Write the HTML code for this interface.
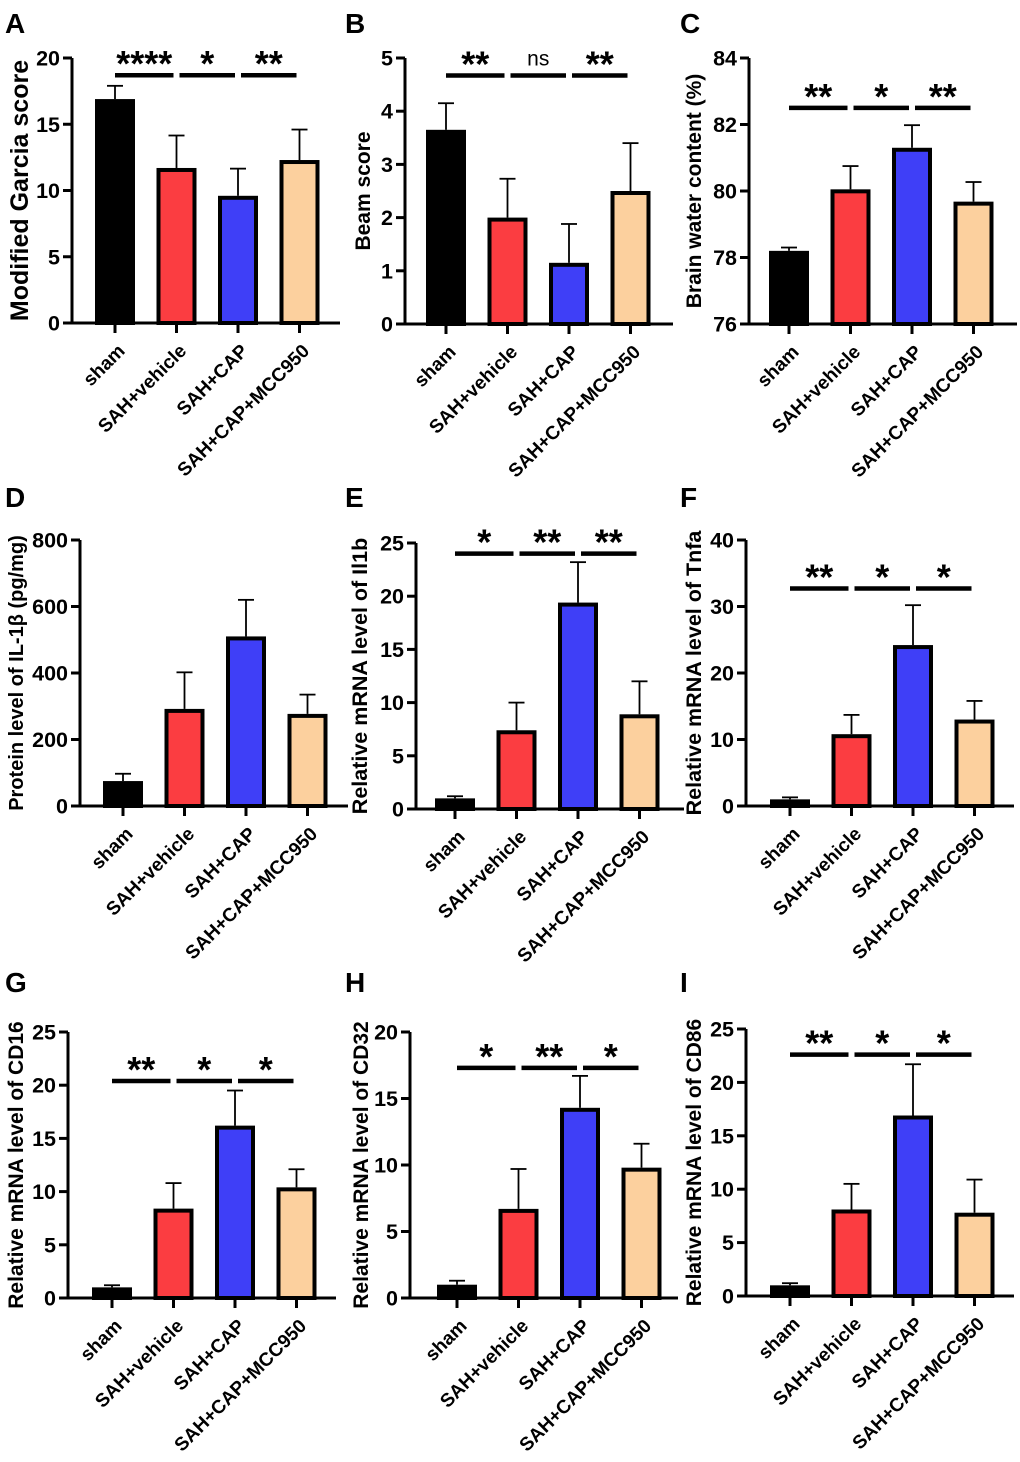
<!DOCTYPE html>
<html><head><meta charset="utf-8"><style>
html,body{margin:0;padding:0;background:#fff}
svg{display:block;font-family:"Liberation Sans",Arial,sans-serif}
</style></head><body>
<svg id="fig" width="1020" height="1462" viewBox="0 0 1020 1462" xmlns="http://www.w3.org/2000/svg"></svg>
<script>
const categories = ["sham","SAH+vehicle","SAH+CAP","SAH+CAP+MCC950"];
const colors = ["#000000","#fb3d41","#3f3ff7","#fcd09e"];
const garciaMeans=[16.9,11.7,9.6,12.3], garciaErr=[1.0,2.45,2.05,2.3];
const beamMeans=[3.65,2.0,1.15,2.5], beamErr=[0.5,0.73,0.73,0.9];
const waterMeans=[78.2,80.05,81.3,79.68], waterErr=[0.1,0.7,0.68,0.59];
const il1bProtMeans=[75,292,510,277], il1bProtErr=[22,110,110,58];
const il1bMeans=[1.0,7.4,19.4,8.9], il1bErr=[0.2,2.6,3.8,3.1];
const tnfaMeans=[1.0,10.8,24.2,13.0], tnfaErr=[0.3,2.9,6.0,2.8];
const cd16Means=[1.0,8.4,16.2,10.4], cd16Err=[0.2,2.4,3.3,1.7];
const cd32Means=[1.0,6.7,14.3,9.8], cd32Err=[0.3,3.0,2.4,1.8];
const cd86Means=[1.0,8.1,16.9,7.8], cd86Err=[0.2,2.4,4.8,3.1];
const garciaSig=["****","*","**"], beamSig=["**","ns","**"], waterSig=["**","*","**"];
const il1bSig=["*","**","**"], tnfaSig=["**","*","*"], cd16Sig=["**","*","*"], cd32Sig=["*","**","*"], cd86Sig=["**","*","*"];
const garciaTicks=[0,5,10,15,20], beamTicks=[0,1,2,3,4,5], waterTicks=[76,78,80,82,84];
const protTicks=[0,200,400,600,800], il1bTicks=[0,5,10,15,20,25], tnfaTicks=[0,10,20,30,40];
const cd16Ticks=[0,5,10,15,20,25], cd32Ticks=[0,5,10,15,20], cd86Ticks=[0,5,10,15,20,25];

const NS="http://www.w3.org/2000/svg";
const svg=document.getElementById('fig');
function mk(tag,attrs,parent){const e=document.createElementNS(NS,tag);for(const k in attrs)e.setAttribute(k,attrs[k]);(parent||svg).appendChild(e);return e;}

const panels=[
 {L:"A",lx:5,ly:33,x0:72,t1:115,yTop:58,yBot:323,min:0,max:20,ticks:garciaTicks,m:garciaMeans,e:garciaErr,sig:garciaSig,sigV:18.7,title:"Modified Garcia score",tx:28,tfs:25},
 {L:"B",lx:345,ly:33,x0:405,t1:446,yTop:58,yBot:324,min:0,max:5,ticks:beamTicks,m:beamMeans,e:beamErr,sig:beamSig,sigV:4.67,title:"Beam score",tx:370,tfs:21},
 {L:"C",lx:680,ly:33,x0:749,t1:789,yTop:58,yBot:324,min:76,max:84,ticks:waterTicks,m:waterMeans,e:waterErr,sig:waterSig,sigV:82.5,title:"Brain water content (%)",tx:701,tfs:21},
 {L:"D",lx:5,ly:507,x0:80,t1:123,yTop:540,yBot:806,min:0,max:800,ticks:protTicks,m:il1bProtMeans,e:il1bProtErr,sig:null,title:"Protein level of IL-1β (pg/mg)",tx:23,tfs:20},
 {L:"E",lx:345,ly:507,x0:416,t1:455,yTop:543,yBot:809,min:0,max:25,ticks:il1bTicks,m:il1bMeans,e:il1bErr,sig:il1bSig,sigV:24,title:"Relative mRNA level of Il1b",tx:367,tfs:21.5},
 {L:"F",lx:680,ly:507,x0:746,t1:790,yTop:540,yBot:806,min:0,max:40,ticks:tnfaTicks,m:tnfaMeans,e:tnfaErr,sig:tnfaSig,sigV:32.7,title:"Relative mRNA level of Tnfa",tx:701,tfs:21.5},
 {L:"G",lx:5,ly:992,x0:68,t1:112,yTop:1032,yBot:1298,min:0,max:25,ticks:cd16Ticks,m:cd16Means,e:cd16Err,sig:cd16Sig,sigV:20.4,title:"Relative mRNA level of CD16",tx:23,tfs:21},
 {L:"H",lx:345,ly:992,x0:410,t1:457,yTop:1032,yBot:1298,min:0,max:20,ticks:cd32Ticks,m:cd32Means,e:cd32Err,sig:cd32Sig,sigV:17.3,title:"Relative mRNA level of CD32",tx:368,tfs:21},
 {L:"I",lx:680,ly:992,x0:746,t1:790,yTop:1029,yBot:1296,min:0,max:25,ticks:cd86Ticks,m:cd86Means,e:cd86Err,sig:cd86Sig,sigV:22.6,title:"Relative mRNA level of CD86",tx:701,tfs:21}
];
const SP=61.5, BW=40;

panels.forEach(p=>{
  const g=mk('g',{});
  
  
  const y=v=>p.yBot-(v-p.min)/(p.max-p.min)*(p.yBot-p.yTop);
  const x=i=>p.t1+i*SP;
  const lt=mk('text',{x:p.lx,y:p.ly,'font-size':28,'font-weight':'bold'},g);lt.textContent=p.L;
  
  
  const cy=(p.yTop+p.yBot)/2;
  const tt=mk('text',{x:p.tx,y:cy,'font-size':p.tfs,'font-weight':'bold','text-anchor':'middle',transform:`rotate(-90 ${p.tx} ${cy})`},g);tt.textContent=p.title;
  
  
  p.m.forEach((v,i)=>{
    const top=y(v), bot=p.yBot;
    const et=y(v+p.e[i]);
    const el=mk('line',{x1:x(i),x2:x(i),y1:et,y2:top,stroke:'#000','stroke-width':1.8},g);
    
    
    const cap=mk('line',{x1:x(i)-8,x2:x(i)+8,y1:et,y2:et,stroke:'#000','stroke-width':1.8},g);
    
    
    const r=mk('rect',{x:x(i)-BW/2+2,y:top+2,width:BW-4,height:Math.max(0,bot-top-2),fill:colors[i],stroke:'#000','stroke-width':4},g);
    
    
  });
  const xEnd=p.x0+268;
  const ya=mk('line',{x1:p.x0,x2:p.x0,y1:p.yTop,y2:p.yBot+1,stroke:'#000','stroke-width':3},g);
  
  
  const xa=mk('line',{x1:p.x0-9,x2:xEnd,y1:p.yBot,y2:p.yBot,stroke:'#000','stroke-width':3},g);
  
  
  p.ticks.forEach(t=>{
    const ty=y(t);
    mk('line',{x1:p.x0-9,x2:p.x0,y1:ty,y2:ty,stroke:'#000','stroke-width':3},g);
    const tl=mk('text',{x:p.x0-12,y:ty+7.5,'font-size':21.5,'font-weight':'bold','text-anchor':'end'},g);tl.textContent=t;
    
    
  });
  categories.forEach((c,i)=>{
    mk('line',{x1:x(i),x2:x(i),y1:p.yBot,y2:p.yBot+10,stroke:'#000','stroke-width':3},g);
    const ax=x(i)+11, ay=p.yBot+29;
    const cl=mk('text',{x:ax,y:ay,'font-size':19,'font-weight':'bold','text-anchor':'end',transform:`rotate(-45 ${ax} ${ay})`},g);cl.textContent=c;
    
    
  });
  if(p.sig){
    const sy=y(p.sigV);
    p.sig.forEach((s,i)=>{
      const a=x(i)+(i===0?0:3), b=x(i+1)-3;
      const sl=mk('line',{x1:a,x2:b,y1:sy,y2:sy,stroke:'#000','stroke-width':4.5},g);
      
      
      const st=mk('text',{x:(a+b)/2,y:s==='ns'?sy-10:sy+1,'font-size':s==='ns'?21:36,'font-weight':s==='ns'?'normal':'bold','text-anchor':'middle'},g);st.textContent=s;
      
      
    });
  }
});
</script>
</body></html>
